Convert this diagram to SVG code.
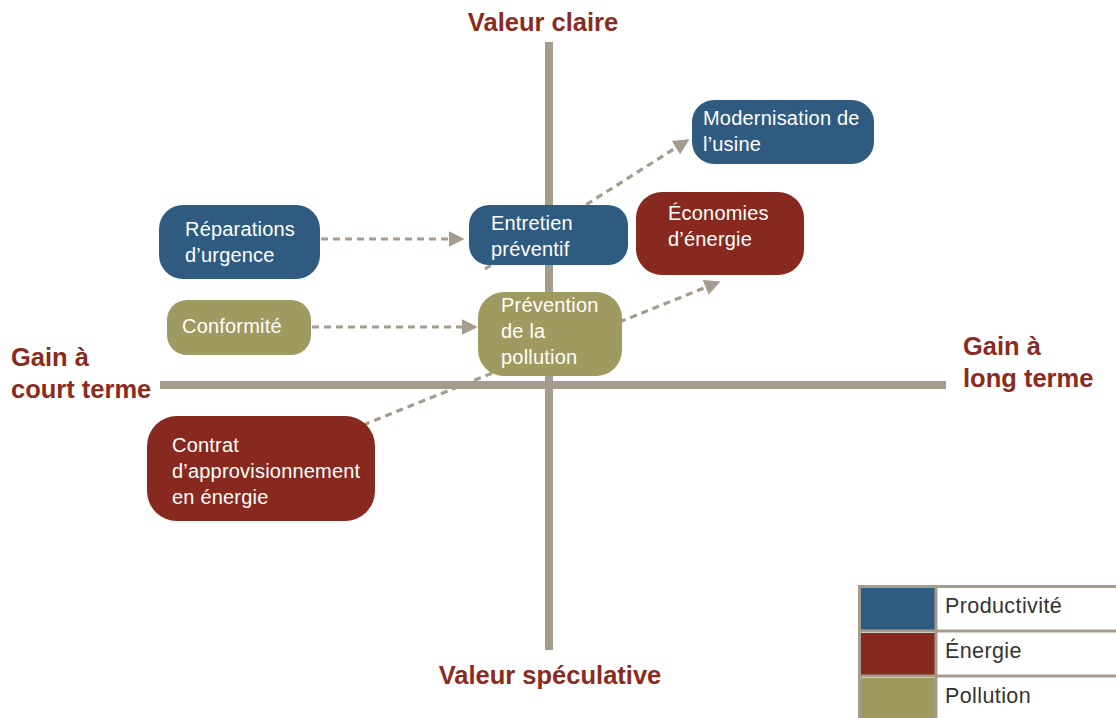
<svg xmlns="http://www.w3.org/2000/svg" width="1116" height="718" viewBox="0 0 1116 718">
<defs>
<style>
.axis{stroke:#a59c8d;stroke-width:8;fill:none}
.conn{stroke:#a59c8d;stroke-width:3.2;fill:none;stroke-dasharray:7 5}
.title{font-family:"Liberation Sans",Arial,sans-serif;font-weight:bold;font-size:25.5px;fill:#8b2b1f}
.lbl{font-family:"Liberation Sans",Arial,sans-serif;font-size:20px;letter-spacing:0.2px;fill:#ffffff}
.leg{font-family:"Liberation Sans",Arial,sans-serif;font-size:21.5px;letter-spacing:0.4px;fill:#333333}
.blue{fill:#2f5b81}
.red{fill:#87291e}
.olive{fill:#9e9a60}
</style>
<marker id="ah" viewBox="0 0 10 10" refX="9" refY="5" markerWidth="5" markerHeight="5" markerUnits="strokeWidth" orient="auto">
<path d="M0,0 L10,5 L0,10 Z" fill="#a59c8d"/>
</marker>
</defs>
<rect width="1116" height="718" fill="#ffffff"/>
<g id="axes">
<line class="axis" x1="549" y1="42" x2="549" y2="650"/>
<line class="axis" x1="160" y1="385" x2="946" y2="385"/>
</g>
<g id="axis-labels">
<text class="title" x="543" y="31" text-anchor="middle">Valeur claire</text>
<text class="title" x="550" y="684" text-anchor="middle">Valeur spéculative</text>
<text class="title" x="11" y="366">Gain à</text>
<text class="title" x="11" y="398">court terme</text>
<text class="title" x="963" y="355">Gain à</text>
<text class="title" x="963" y="387">long terme</text>
</g>
<g id="connectors">
<line class="conn" x1="321" y1="239" x2="463" y2="239" marker-end="url(#ah)"/>
<line class="conn" x1="312" y1="327" x2="476" y2="327" marker-end="url(#ah)"/>
<line class="conn" x1="485" y1="269" x2="688" y2="140" marker-end="url(#ah)"/>
<line class="conn" x1="363" y1="425" x2="719" y2="282" marker-end="url(#ah)"/>
</g>
<g id="node-reparations">
<rect class="blue" x="159" y="205" width="161" height="74" rx="24"/>
<text class="lbl" x="185" y="236">Réparations</text>
<text class="lbl" x="185" y="262">d’urgence</text>
</g>
<g id="node-conformite">
<rect class="olive" x="167" y="300" width="144" height="55" rx="20"/>
<text class="lbl" x="182" y="333">Conformité</text>
</g>
<g id="node-entretien">
<rect class="blue" x="469" y="205" width="159" height="60" rx="20"/>
<text class="lbl" x="491" y="230">Entretien</text>
<text class="lbl" x="491" y="256">préventif</text>
</g>
<g id="node-modernisation">
<rect class="blue" x="692" y="100" width="182" height="64" rx="22"/>
<text class="lbl" x="703" y="125">Modernisation de</text>
<text class="lbl" x="703" y="151">l’usine</text>
</g>
<g id="node-economies">
<rect class="red" x="636" y="192" width="168" height="83" rx="26"/>
<text class="lbl" x="668" y="220">Économies</text>
<text class="lbl" x="668" y="246">d’énergie</text>
</g>
<g id="node-prevention">
<rect class="olive" x="478" y="292" width="144" height="84" rx="26"/>
<text class="lbl" x="501" y="312">Prévention</text>
<text class="lbl" x="501" y="338">de la</text>
<text class="lbl" x="501" y="364">pollution</text>
</g>
<g id="node-contrat">
<rect class="red" x="147" y="416" width="228" height="105" rx="30"/>
<text class="lbl" x="172" y="452">Contrat</text>
<text class="lbl" x="172" y="478">d’approvisionnement</text>
<text class="lbl" x="172" y="504">en énergie</text>
</g>
<g id="legend">
<rect x="859.5" y="586.5" width="260" height="134" fill="#ffffff" stroke="#a59c8d" stroke-width="3"/>
<rect class="blue" x="861" y="588" width="74" height="42"/>
<rect class="red" x="861" y="633" width="74" height="42"/>
<rect class="olive" x="861" y="678" width="74" height="42"/>
<line x1="936" y1="586" x2="936" y2="718" stroke="#a59c8d" stroke-width="3"/>
<line x1="859" y1="631" x2="1116" y2="631" stroke="#a59c8d" stroke-width="3"/>
<line x1="859" y1="676" x2="1116" y2="676" stroke="#a59c8d" stroke-width="3"/>
<text class="leg" x="945" y="613">Productivité</text>
<text class="leg" x="945" y="658">Énergie</text>
<text class="leg" x="945" y="703">Pollution</text>
</g>
</svg>
